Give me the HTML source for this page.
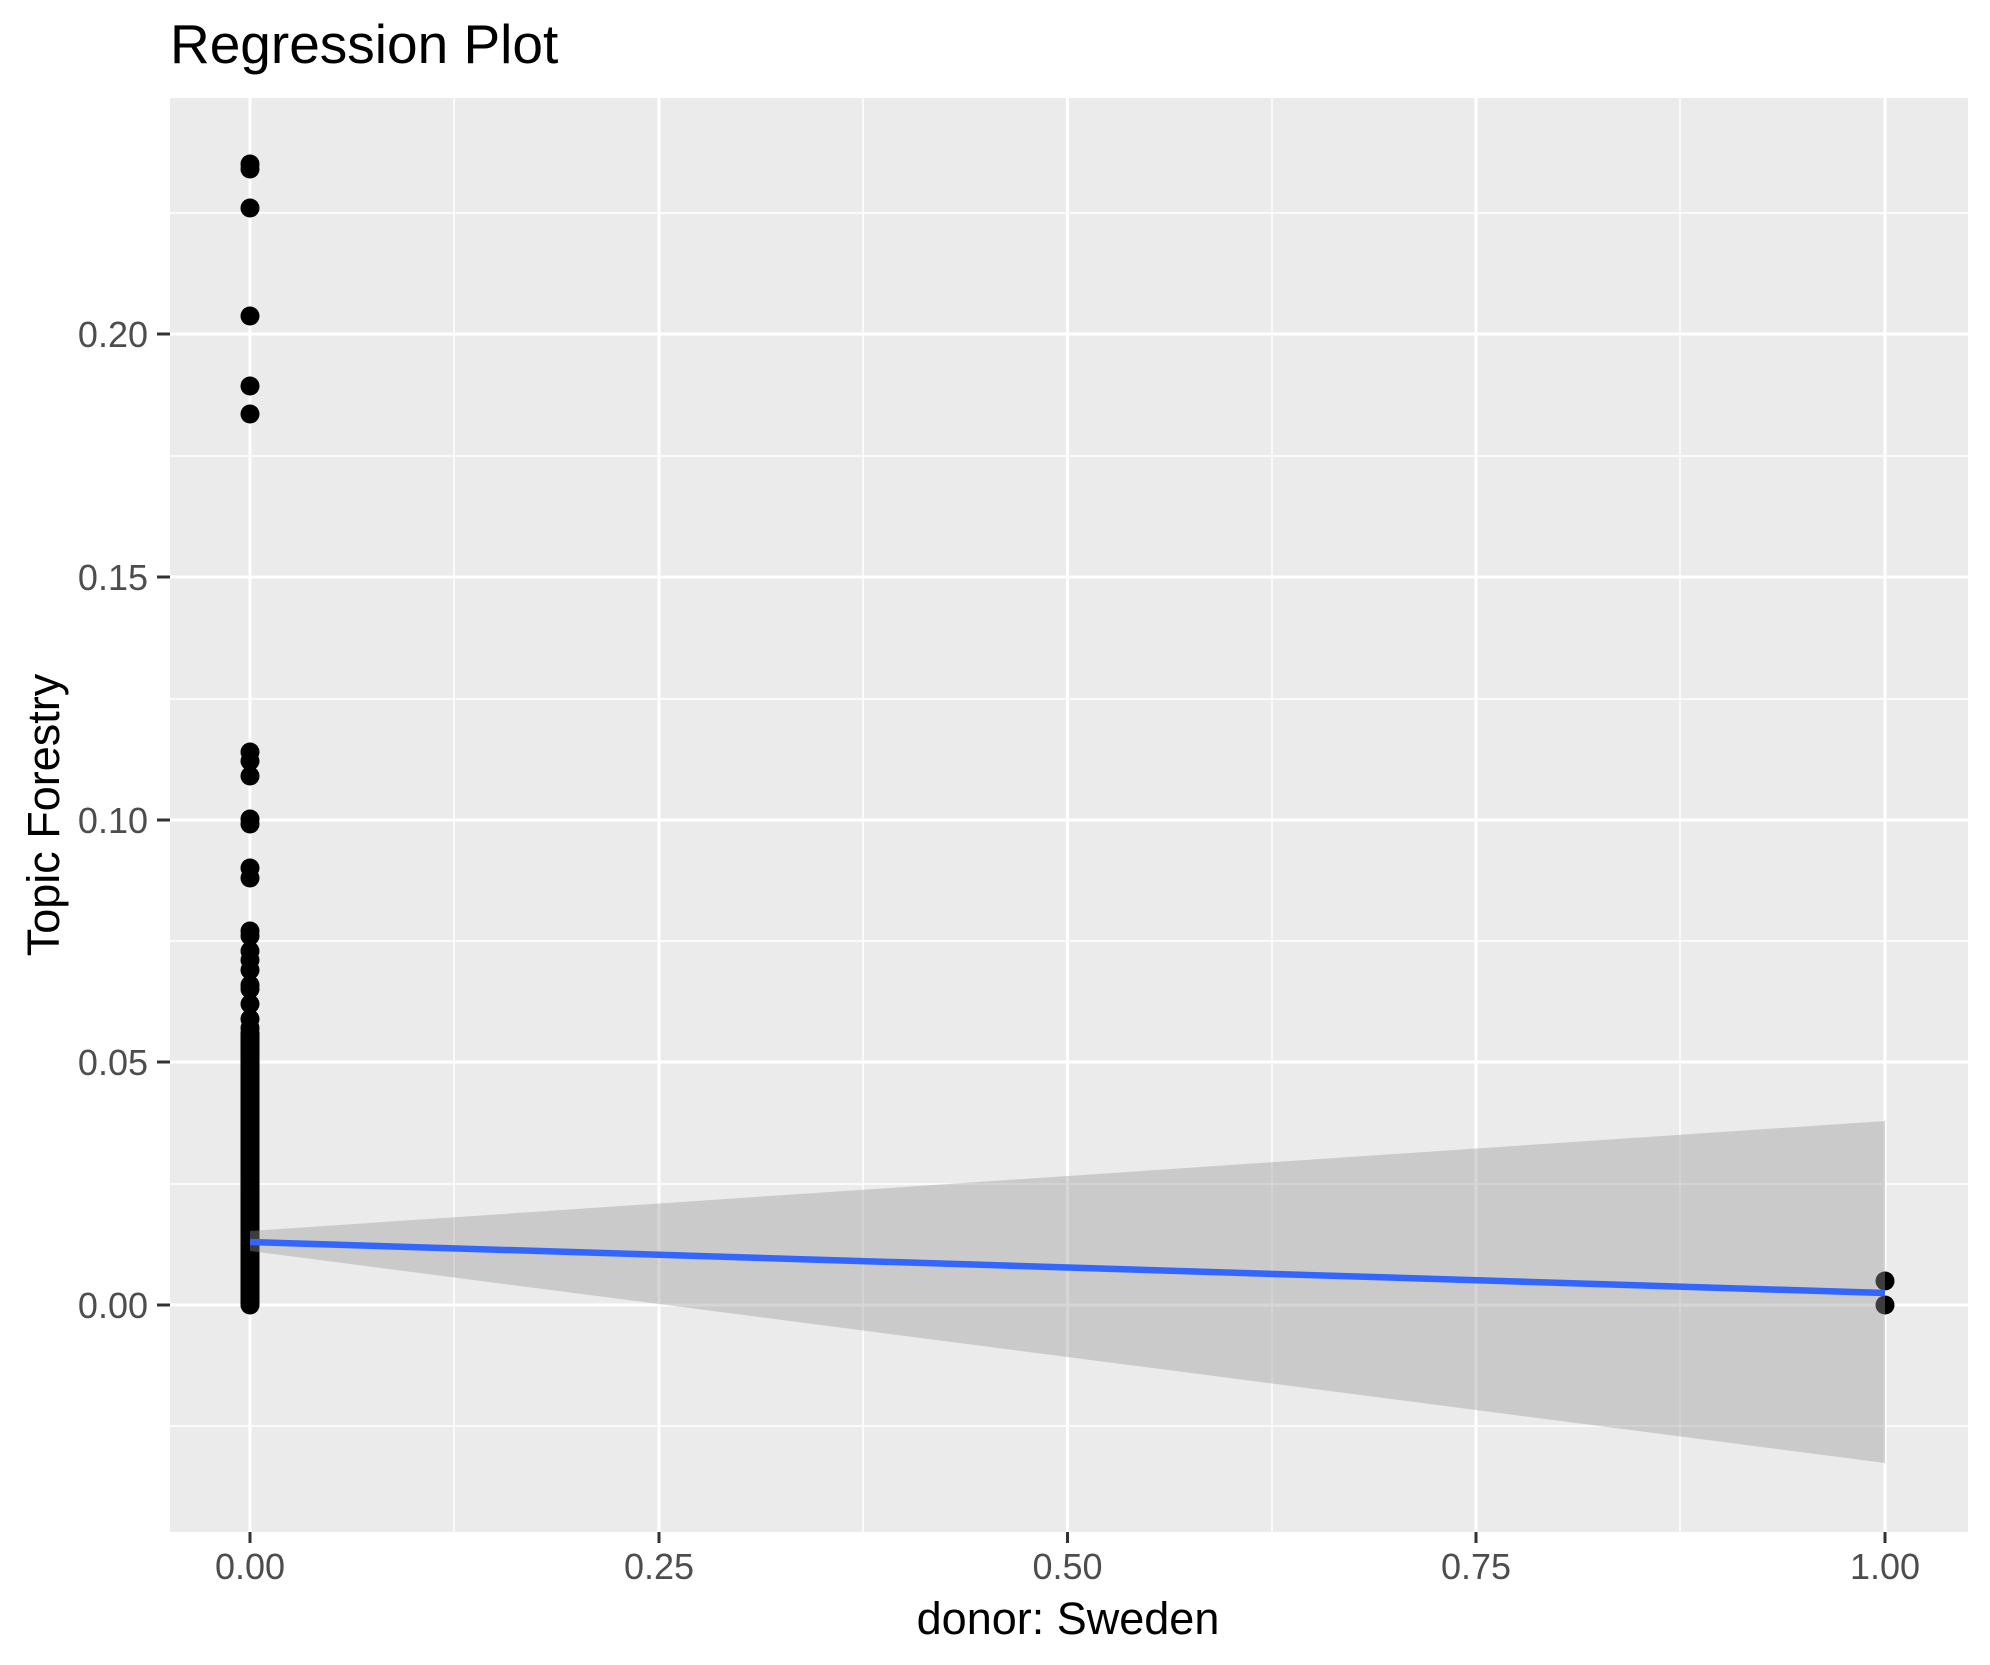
<!DOCTYPE html>
<html><head><meta charset="utf-8"><style>html,body{margin:0;padding:0;background:#fff}svg{display:block}</style></head>
<body>
<svg width="1990" height="1665" viewBox="0 0 1990 1665" xmlns="http://www.w3.org/2000/svg" font-family="Liberation Sans, Arial, sans-serif">
<rect x="170" y="98" width="1798" height="1434" fill="#EBEBEB"/>
<g stroke="#fff" stroke-width="1.5">
<line x1="170" x2="1968" y1="213" y2="213"/><line x1="170" x2="1968" y1="456" y2="456"/><line x1="170" x2="1968" y1="699" y2="699"/><line x1="170" x2="1968" y1="941" y2="941"/><line x1="170" x2="1968" y1="1184" y2="1184"/><line x1="170" x2="1968" y1="1426" y2="1426"/>
<line y1="98" y2="1532" x1="454" x2="454"/><line y1="98" y2="1532" x1="863" x2="863"/><line y1="98" y2="1532" x1="1272" x2="1272"/><line y1="98" y2="1532" x1="1680" x2="1680"/>
</g>
<g stroke="#fff" stroke-width="3">
<line x1="170" x2="1968" y1="334" y2="334"/><line x1="170" x2="1968" y1="577" y2="577"/><line x1="170" x2="1968" y1="820" y2="820"/><line x1="170" x2="1968" y1="1062" y2="1062"/><line x1="170" x2="1968" y1="1305" y2="1305"/>
<line y1="98" y2="1532" x1="250" x2="250"/><line y1="98" y2="1532" x1="659" x2="659"/><line y1="98" y2="1532" x1="1067.5" x2="1067.5"/><line y1="98" y2="1532" x1="1476" x2="1476"/><line y1="98" y2="1532" x1="1885" x2="1885"/>
</g>
<g fill="#000">
<line x1="250" x2="250" y1="1305" y2="1033" stroke="#000" stroke-width="19" stroke-linecap="round"/>
<circle cx="250" cy="164" r="9.5"/><circle cx="250" cy="169" r="9.5"/><circle cx="250" cy="208" r="9.5"/><circle cx="250" cy="316" r="9.5"/><circle cx="250" cy="386" r="9.5"/><circle cx="250" cy="414" r="9.5"/>
<circle cx="250" cy="752" r="9.5"/><circle cx="250" cy="761" r="9.5"/><circle cx="250" cy="776" r="9.5"/><circle cx="250" cy="819" r="9.5"/><circle cx="250" cy="824" r="9.5"/><circle cx="250" cy="868" r="9.5"/><circle cx="250" cy="878" r="9.5"/><circle cx="250" cy="931" r="9.5"/><circle cx="250" cy="936" r="9.5"/><circle cx="250" cy="951" r="9.5"/><circle cx="250" cy="960" r="9.5"/><circle cx="250" cy="970" r="9.5"/><circle cx="250" cy="985" r="9.5"/><circle cx="250" cy="989" r="9.5"/><circle cx="250" cy="1004" r="9.5"/><circle cx="250" cy="1019" r="9.5"/><circle cx="250" cy="1028" r="9.5"/>
<circle cx="1885" cy="1305" r="9.5"/><circle cx="1885" cy="1281" r="9.5"/>
</g>
<polygon points="250,1231 1885,1121 1885,1463 250,1251" fill="#999" fill-opacity="0.4"/>
<line x1="250" y1="1242" x2="1885" y2="1293" stroke="#3366FF" stroke-width="6.5"/>
<g stroke="#333" stroke-width="3">
<line x1="157" x2="170" y1="334" y2="334"/><line x1="157" x2="170" y1="577" y2="577"/><line x1="157" x2="170" y1="820" y2="820"/><line x1="157" x2="170" y1="1062" y2="1062"/><line x1="157" x2="170" y1="1305" y2="1305"/>
<line y1="1532" y2="1543" x1="250" x2="250"/><line y1="1532" y2="1543" x1="659" x2="659"/><line y1="1532" y2="1543" x1="1067.5" x2="1067.5"/><line y1="1532" y2="1543" x1="1476" x2="1476"/><line y1="1532" y2="1543" x1="1885" x2="1885"/>
</g>
<g fill="#4D4D4D" font-size="36" text-anchor="end">
<text x="148" y="347">0.20</text><text x="148" y="590">0.15</text><text x="148" y="833">0.10</text><text x="148" y="1075">0.05</text><text x="148" y="1318">0.00</text>
</g>
<g fill="#4D4D4D" font-size="36" text-anchor="middle">
<text x="250" y="1579">0.00</text><text x="659" y="1579">0.25</text><text x="1067.5" y="1579">0.50</text><text x="1476" y="1579">0.75</text><text x="1885" y="1579">1.00</text>
</g>
<text x="1068" y="1634" font-size="45" text-anchor="middle" fill="#000">donor: Sweden</text>
<text transform="translate(59,815) rotate(-90)" font-size="45" text-anchor="middle" fill="#000">Topic Forestry</text>
<text x="170" y="63" font-size="55" fill="#000">Regression Plot</text>
</svg>
</body></html>
